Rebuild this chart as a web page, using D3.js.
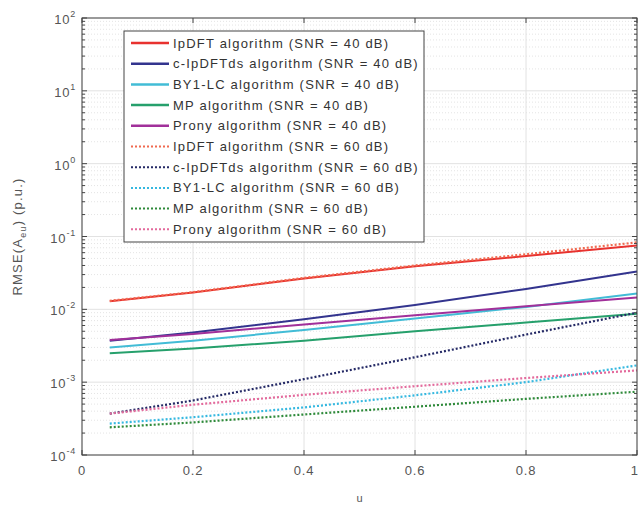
<!DOCTYPE html>
<html>
<head>
<meta charset="utf-8">
<script src="https://cdn.jsdelivr.net/npm/d3@7"></script>
<style>
  body { margin: 0; background: #fff; }
  svg { font-family: "Liberation Sans", Arial, sans-serif; }
</style>
</head>
<body>
<svg id="chart" width="639" height="511"></svg>
<script>
// x positions (u)
const uValues = [0.05, 0.2, 0.4, 0.6, 0.8, 1.0];

// RMSE values, SNR = 40 dB
const ipdft40   = [0.0129, 0.0170, 0.0265, 0.039, 0.054, 0.075];
const cipdft40  = [0.0037, 0.0048, 0.0073, 0.0115, 0.019, 0.033];
const by1lc40   = [0.0030, 0.0037, 0.0052, 0.0075, 0.0108, 0.0165];
const mp40      = [0.0025, 0.0029, 0.0037, 0.0050, 0.0066, 0.0087];
const prony40   = [0.0038, 0.0046, 0.0062, 0.0083, 0.011, 0.0145];

// SNR = 60 dB
const ipdft60   = [0.0131, 0.0172, 0.0270, 0.040, 0.057, 0.083];
const cipdft60  = [0.00037, 0.00056, 0.0011, 0.0022, 0.0045, 0.0090];
const by1lc60   = [0.00027, 0.00033, 0.00045, 0.00066, 0.0010, 0.0017];
const mp60      = [0.00024, 0.00028, 0.00036, 0.00046, 0.00059, 0.00074];
const prony60   = [0.00037, 0.00049, 0.00067, 0.00088, 0.00114, 0.00145];

const xTicks = [0, 0.2, 0.4, 0.6, 0.8, 1];
const yExponents = [-4, -3, -2, -1, 0, 1, 2];

const series = [
  { name: "IpDFT algorithm (SNR = 40 dB)",    values: ipdft40,  color: "#e8322f", dash: null },
  { name: "c-IpDFTds algorithm (SNR = 40 dB)", values: cipdft40, color: "#33348e", dash: null },
  { name: "BY1-LC algorithm (SNR = 40 dB)",   values: by1lc40,  color: "#42bcd6", dash: null },
  { name: "MP algorithm (SNR = 40 dB)",       values: mp40,     color: "#26a06c", dash: null },
  { name: "Prony algorithm (SNR = 40 dB)",    values: prony40,  color: "#a1309a", dash: null },
  { name: "IpDFT algorithm (SNR = 60 dB)",    values: ipdft60,  color: "#f06a50", dash: "2,2" },
  { name: "c-IpDFTds algorithm (SNR = 60 dB)", values: cipdft60, color: "#252a66", dash: "2,2" },
  { name: "BY1-LC algorithm (SNR = 60 dB)",   values: by1lc60,  color: "#35b8e0", dash: "2,2" },
  { name: "MP algorithm (SNR = 60 dB)",       values: mp60,     color: "#2e8a3a", dash: "2,2" },
  { name: "Prony algorithm (SNR = 60 dB)",    values: prony60,  color: "#e36a9c", dash: "2,2" }
];

const margin = { top: 18, right: 2, bottom: 56, left: 82 };
const width = 639, height = 511;
const svg = d3.select("#chart");

const x = d3.scaleLinear().domain([0, 1]).range([margin.left, width - margin.right]);
const y = d3.scaleLog().domain([1e-4, 1e2]).range([height - margin.bottom, margin.top]);

const g = svg.append("g");

// Minor grid (log)
const minorVals = [];
yExponents.slice(0, -1).forEach(e => {
  for (let k = 2; k <= 9; k++) minorVals.push(k * Math.pow(10, e));
});
g.append("g").selectAll("line")
  .data(minorVals)
  .join("line")
  .attr("x1", x(0)).attr("x2", x(1))
  .attr("y1", d => y(d)).attr("y2", d => y(d))
  .attr("stroke", "#e4e4e4")
  .attr("stroke-dasharray", "1,2");

// Major grid
g.append("g").selectAll("line")
  .data(yExponents)
  .join("line")
  .attr("x1", x(0)).attr("x2", x(1))
  .attr("y1", d => y(Math.pow(10, d))).attr("y2", d => y(Math.pow(10, d)))
  .attr("stroke", "#e2e2e2");
g.append("g").selectAll("line")
  .data(xTicks)
  .join("line")
  .attr("x1", d => x(d)).attr("x2", d => x(d))
  .attr("y1", y(1e-4)).attr("y2", y(1e2))
  .attr("stroke", "#e2e2e2");

// Lines
const line = d3.line()
  .x((d, i) => x(uValues[i]))
  .y(d => y(d));

g.append("g").selectAll("path")
  .data(series)
  .join("path")
  .attr("d", d => line(d.values))
  .attr("fill", "none")
  .attr("stroke", d => d.color)
  .attr("stroke-width", d => d.dash ? 2.2 : 2)
  .attr("stroke-dasharray", d => d.dash);

// Axes box with inward ticks
const axisColor = "#444";
const tickLen = 5;
const box = svg.append("g");
box.append("rect")
  .attr("x", x(0)).attr("y", y(1e2))
  .attr("width", x(1) - x(0)).attr("height", y(1e-4) - y(1e2))
  .attr("fill", "none").attr("stroke", axisColor).attr("stroke-width", 1);

// x ticks
xTicks.forEach(t => {
  box.append("line").attr("x1", x(t)).attr("x2", x(t))
    .attr("y1", y(1e-4)).attr("y2", y(1e-4) - tickLen).attr("stroke", axisColor);
  box.append("line").attr("x1", x(t)).attr("x2", x(t))
    .attr("y1", y(1e2)).attr("y2", y(1e2) + tickLen).attr("stroke", axisColor);
  // last label sits at the right edge of the picture; keep it inside
  const last = t === 1;
  box.append("text")
    .attr("x", last ? width - 1 : x(t)).attr("y", y(1e-4) + 20)
    .attr("text-anchor", last ? "end" : "middle")
    .attr("font-size", 13).attr("letter-spacing", last ? 0 : 0.8).attr("fill", "#555")
    .text(d3.format("~g")(t));
});

// y ticks (major + minor)
yExponents.forEach(e => {
  const yy = y(Math.pow(10, e));
  box.append("line").attr("x1", x(0)).attr("x2", x(0) + tickLen)
    .attr("y1", yy).attr("y2", yy).attr("stroke", axisColor);
  box.append("line").attr("x1", x(1)).attr("x2", x(1) - tickLen)
    .attr("y1", yy).attr("y2", yy).attr("stroke", axisColor);
  const t = box.append("text")
    .attr("x", x(0) - 6).attr("y", yy + 6)
    .attr("text-anchor", "end")
    .attr("font-size", 13).attr("letter-spacing", 0.8).attr("fill", "#555");
  t.append("tspan").text("10");
  t.append("tspan").attr("dy", -7).attr("font-size", 9).text(e);
});
minorVals.forEach(v => {
  box.append("line").attr("x1", x(0)).attr("x2", x(0) + 3)
    .attr("y1", y(v)).attr("y2", y(v)).attr("stroke", axisColor);
  box.append("line").attr("x1", x(1)).attr("x2", x(1) - 3)
    .attr("y1", y(v)).attr("y2", y(v)).attr("stroke", axisColor);
});

// Axis labels
svg.append("text")
  .attr("x", (x(0) + x(1)) / 2).attr("y", 502)
  .attr("text-anchor", "middle")
  .attr("font-size", 11).attr("fill", "#555")
  .text("u");

const yl = svg.append("text")
  .attr("transform", `translate(22,${(y(1e-4) + y(1e2)) / 2}) rotate(-90)`)
  .attr("text-anchor", "middle")
  .attr("font-size", 13).attr("letter-spacing", 1.2).attr("fill", "#555");
yl.append("tspan").text("RMSE(A");
yl.append("tspan").attr("dy", 4).attr("font-size", 9).text("eu");
yl.append("tspan").attr("dy", -4).text(") (p.u.)");

// Legend
const legend = svg.append("g");
legend.append("rect")
  .attr("x", 124).attr("y", 31).attr("width", 300).attr("height", 211)
  .attr("fill", "#fff").attr("stroke", axisColor).attr("stroke-width", 1);
const rowH = 20.7;
const item = legend.selectAll("g.item")
  .data(series)
  .join("g")
  .attr("class", "item")
  .attr("transform", (d, i) => `translate(0,${43 + i * rowH})`);
item.append("line")
  .attr("x1", 131).attr("x2", 169)
  .attr("stroke", d => d.color)
  .attr("stroke-width", d => d.dash ? 2 : 2.5)
  .attr("stroke-dasharray", d => d.dash);
item.append("text")
  .attr("x", 173).attr("y", 4.5)
  .attr("font-size", 13).attr("letter-spacing", 1.2).attr("fill", "#333")
  .text(d => d.name);
</script>
</body>
</html>
